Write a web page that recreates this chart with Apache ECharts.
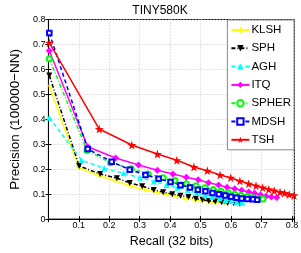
<!DOCTYPE html>
<html><head><meta charset="utf-8">
<script src="https://cdn.jsdelivr.net/npm/echarts@6/dist/echarts.min.js"></script>
<style>html,body{margin:0;padding:0;background:#fff}#c{width:301px;height:253px}</style>
</head><body><div id="c"></div>
<script>
const seriesNames = ['KLSH','SPH','AGH','ITQ','SPHER','MDSH','TSH'];
const klshX = [0.003,0.099,0.165,0.220,0.271,0.316,0.357,0.392,0.424,0.453,0.480,0.505,0.528,0.554,0.579];
const klshY = [0.534,0.207,0.175,0.153,0.133,0.119,0.108,0.098,0.090,0.083,0.078,0.073,0.069,0.067,0.065];
const sphX = [0.003,0.101,0.170,0.225,0.267,0.308,0.346,0.377,0.407,0.434,0.460,0.484,0.506,0.527,0.548,0.569,0.589,0.609,0.629];
const sphY = [0.576,0.213,0.181,0.164,0.145,0.132,0.117,0.108,0.100,0.094,0.089,0.082,0.078,0.073,0.071,0.068,0.065,0.064,0.062];
const aghX = [0.003,0.109,0.183,0.247,0.301,0.347,0.388,0.424,0.458,0.487,0.514,0.538,0.562,0.582,0.602,0.619,0.637];
const aghY = [0.406,0.236,0.204,0.184,0.166,0.151,0.137,0.126,0.116,0.105,0.096,0.090,0.083,0.077,0.073,0.069,0.067];
const itqX = [0.003,0.129,0.221,0.296,0.358,0.409,0.453,0.492,0.526,0.559,0.587,0.612,0.635,0.658,0.677,0.697,0.715,0.732,0.750];
const itqY = [0.675,0.290,0.245,0.217,0.196,0.181,0.168,0.158,0.146,0.137,0.128,0.122,0.116,0.109,0.104,0.098,0.092,0.089,0.087];
const spherX = [0.003,0.127,0.204,0.272,0.327,0.377,0.416,0.453,0.485,0.515,0.542,0.567,0.590,0.612,0.632,0.653,0.671,0.689,0.705];
const spherY = [0.643,0.275,0.226,0.202,0.181,0.166,0.155,0.142,0.134,0.126,0.119,0.112,0.107,0.100,0.095,0.091,0.087,0.083,0.081];
const mdshX = [0.003,0.129,0.208,0.267,0.319,0.362,0.401,0.434,0.465,0.491,0.516,0.539,0.560,0.581,0.600,0.618,0.635,0.654,0.672,0.686];
const mdshY = [0.746,0.281,0.230,0.198,0.177,0.162,0.149,0.136,0.127,0.118,0.112,0.105,0.100,0.095,0.090,0.086,0.083,0.081,0.080,0.078];
const tshX = [0.003,0.167,0.274,0.358,0.422,0.478,0.522,0.564,0.599,0.629,0.658,0.682,0.704,0.724,0.742,0.761,0.776,0.791,0.807];
const tshY = [0.707,0.361,0.297,0.261,0.236,0.209,0.194,0.177,0.166,0.153,0.142,0.134,0.126,0.119,0.114,0.108,0.104,0.099,0.095];
const xTicks = [0.1,0.2,0.3,0.4,0.5,0.6,0.7,0.8];
const yTicks = [0,0.1,0.2,0.3,0.4,0.5,0.6,0.7,0.8];

const pair = (xs, ys) => xs.map((x, i) => [x, ys[i]]);
const STAR = 'path://M50,0 L61,35 L98,35 L68,57 L79,91 L50,70 L21,91 L32,57 L2,35 L39,35 Z';
const PLUS = 'path://M4,0H6V4H10V6H6V10H4V6H0V4H4Z';
const FONT = 'Liberation Sans';

const styles = [
  {data: pair(klshX, klshY), color: '#ffff00', type: 'solid', symbol: PLUS, size: 5},
  {data: pair(sphX, sphY), color: '#000000', type: [4,2,1,2], symbol: 'triangle', size: 6, rotate: 180},
  {data: pair(aghX, aghY), color: '#00ffff', type: [4,3], symbol: 'triangle', size: 6},
  {data: pair(itqX, itqY), color: '#ff00ff', type: 'solid', symbol: 'diamond', size: 7},
  {data: pair(spherX, spherY), color: '#00ff00', type: [4,2,1,2], symbol: 'emptyCircle', size: 5},
  {data: pair(mdshX, mdshY), color: '#0000ff', type: [4,3], symbol: 'emptyRect', size: 4.5},
  {data: pair(tshX, tshY), color: '#ff0000', type: 'solid', symbol: STAR, size: 9}
];

const chart = echarts.init(document.getElementById('c'), null, {renderer: 'canvas'});
const axisCommon = {
  axisLine: {show: true, lineStyle: {color: '#000', width: 1}},
  axisTick: {show: true, inside: true, length: 3, lineStyle: {color: '#000'}},
  splitLine: {show: true, lineStyle: {color: '#c8c8c8', type: [1,2], width: 1}},
};
chart.setOption({
  animation: false,
  backgroundColor: '#fff',
  title: {text: 'TINY580K', left: 155, textAlign: 'center', top: 0,
    textStyle: {fontFamily: FONT, fontSize: 12, fontWeight: 'normal', color: '#000'}},
  grid: {left: 30, right: 5, top: 19.5, bottom: 26, show: true, borderColor: '#000', borderWidth: 1, backgroundColor: '#fff'},
  legend: {
    data: seriesNames, orient: 'vertical', right: 7, top: 20,
    itemWidth: 18, itemHeight: 8, itemGap: 6.3, padding: [4, 3, 4, 3],
    backgroundColor: '#fff', borderColor: '#888', borderWidth: 1, borderRadius: 0,
    textStyle: {fontFamily: FONT, fontSize: 11.5, color: '#000', padding: [0,0,0,-3]}
  },
  xAxis: [Object.assign({}, axisCommon, {
    type: 'value', min: 0, max: 0.808, interval: 0.1,
    name: 'Recall (32 bits)', nameLocation: 'middle', nameGap: 8,
    nameTextStyle: {fontFamily: FONT, fontSize: 12.5, color: '#000', verticalAlign: 'top'},
    axisLabel: {fontFamily: FONT, fontSize: 9, color: '#000', margin: 2,
      formatter: v => xTicks.some(t => Math.abs(t - v) < 1e-6) ? String(Math.round(v*10)/10) : ''}
  }), {
    type: 'value', min: 0, max: 0.808, interval: 0.1, position: 'top',
    axisLine: {show: true, lineStyle: {color: '#000'}},
    axisTick: {show: true, inside: true, length: 3, lineStyle: {color: '#000'}},
    axisLabel: {show: false}, splitLine: {show: false}
  }],
  yAxis: [Object.assign({}, axisCommon, {
    type: 'value', min: 0, max: 0.8, interval: 0.1,
    name: 'Precision (100000\u2212NN)', nameLocation: 'middle', nameGap: 17,
    nameTextStyle: {fontFamily: FONT, fontSize: 13.5, color: '#000'},
    axisLabel: {fontFamily: FONT, fontSize: 9, color: '#000', margin: 3,
      formatter: v => yTicks.some(t => Math.abs(t - v) < 1e-6) ? String(Math.round(v*10)/10) : ''}
  }), {
    type: 'value', min: 0, max: 0.8, interval: 0.1, position: 'right',
    axisLine: {show: true, lineStyle: {color: '#000'}},
    axisTick: {show: true, inside: true, length: 3, lineStyle: {color: '#000'}},
    axisLabel: {show: false}, splitLine: {show: false}
  }],
  series: seriesNames.map((n, i) => {
    const s = styles[i];
    return {
      name: n, type: 'line', data: s.data, xAxisIndex: 0, yAxisIndex: 0,
      symbol: s.symbol, symbolSize: s.size, symbolRotate: s.rotate || 0,
      showAllSymbol: true, z: 2 + i,
      lineStyle: {color: s.color, width: 1.5, type: s.type},
      itemStyle: {color: s.color, borderColor: s.color, borderWidth: (s.symbol.startsWith('empty') ? 1.2 : 0)}
    };
  })
});
</script></body></html>
